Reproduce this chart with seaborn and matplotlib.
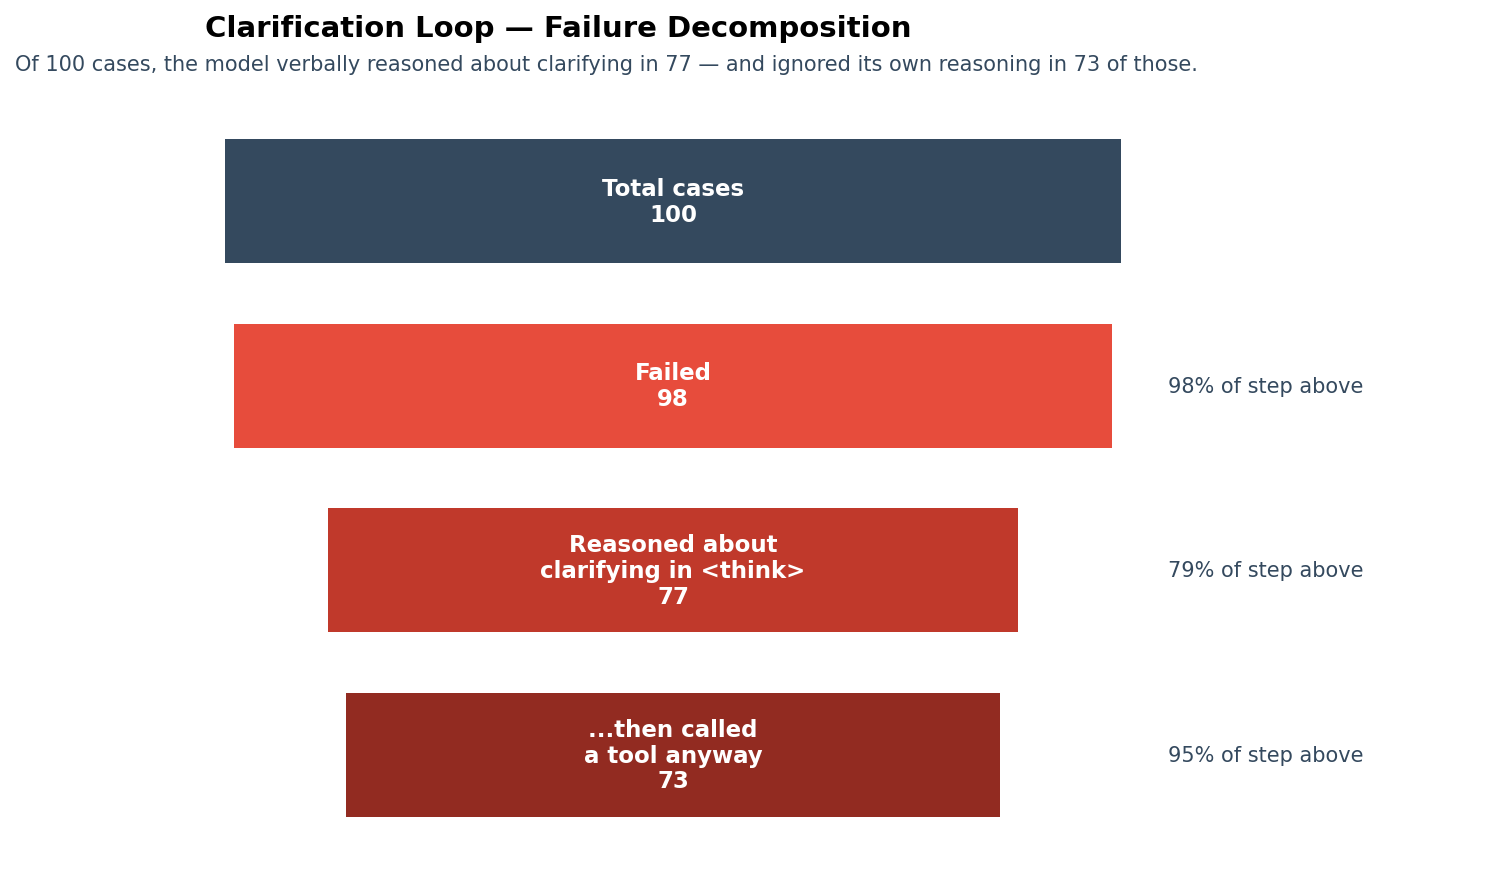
import numpy as np
import pandas as pd
import matplotlib
matplotlib.use("Agg")
import matplotlib.pyplot as plt
import seaborn as sns

stages = ["Total cases", "Failed", "Reasoned about\nclarifying in <think>", "...then called\na tool anyway"]
counts = [100, 98, 77, 73]
colors = ["#34495e", "#e74c3c", "#c0392b", "#922b21"]

df = pd.DataFrame({"stage": stages, "count": counts})

sns.set_theme(style="white")
plt.rcParams["font.family"] = ["DejaVu Sans"]

fig = plt.figure(figsize=(14.98, 8.69), dpi=100)
ax = fig.add_axes([0.0904, 0.025, 0.8972, 0.8499])

sns.barplot(data=df, x="count", y="stage", hue="stage", palette=colors,
            orient="h", width=0.67, saturation=1, legend=False, ax=ax)

# centre each bar around zero to get the funnel shape
for patch, v in zip(ax.patches, counts):
    patch.set_x(-v / 2)
    patch.set_edgecolor("none")

for i, (s, v) in enumerate(zip(stages, counts)):
    ax.text(0, i + 0.006, f"{s}\n{v}", ha="center", va="center", color="white",
            fontsize=16.5, fontweight="bold", linespacing=1.16)
    if i > 0:
        pct = round(v / counts[i - 1] * 100)
        ax.text(55.2, i + 0.006, f"{pct}% of step above", ha="left", va="center",
                color="#34495e", fontsize=15)

ax.set_xlim(-60, 90)
ax.set_ylim(3.5, -0.5)
ax.axis("off")

fig.text(558 / 1498, 1 - 29 / 869, "Clarification Loop — Failure Decomposition",
         ha="center", va="center", fontsize=21, fontweight="bold", color="black")
fig.text(15 / 1498, 1 - 65 / 869,
         "Of 100 cases, the model verbally reasoned about clarifying in 77 — and ignored its own reasoning in 73 of those.",
         ha="left", va="center", fontsize=15, color="#34495e")

fig.savefig("out.png", dpi=100)
